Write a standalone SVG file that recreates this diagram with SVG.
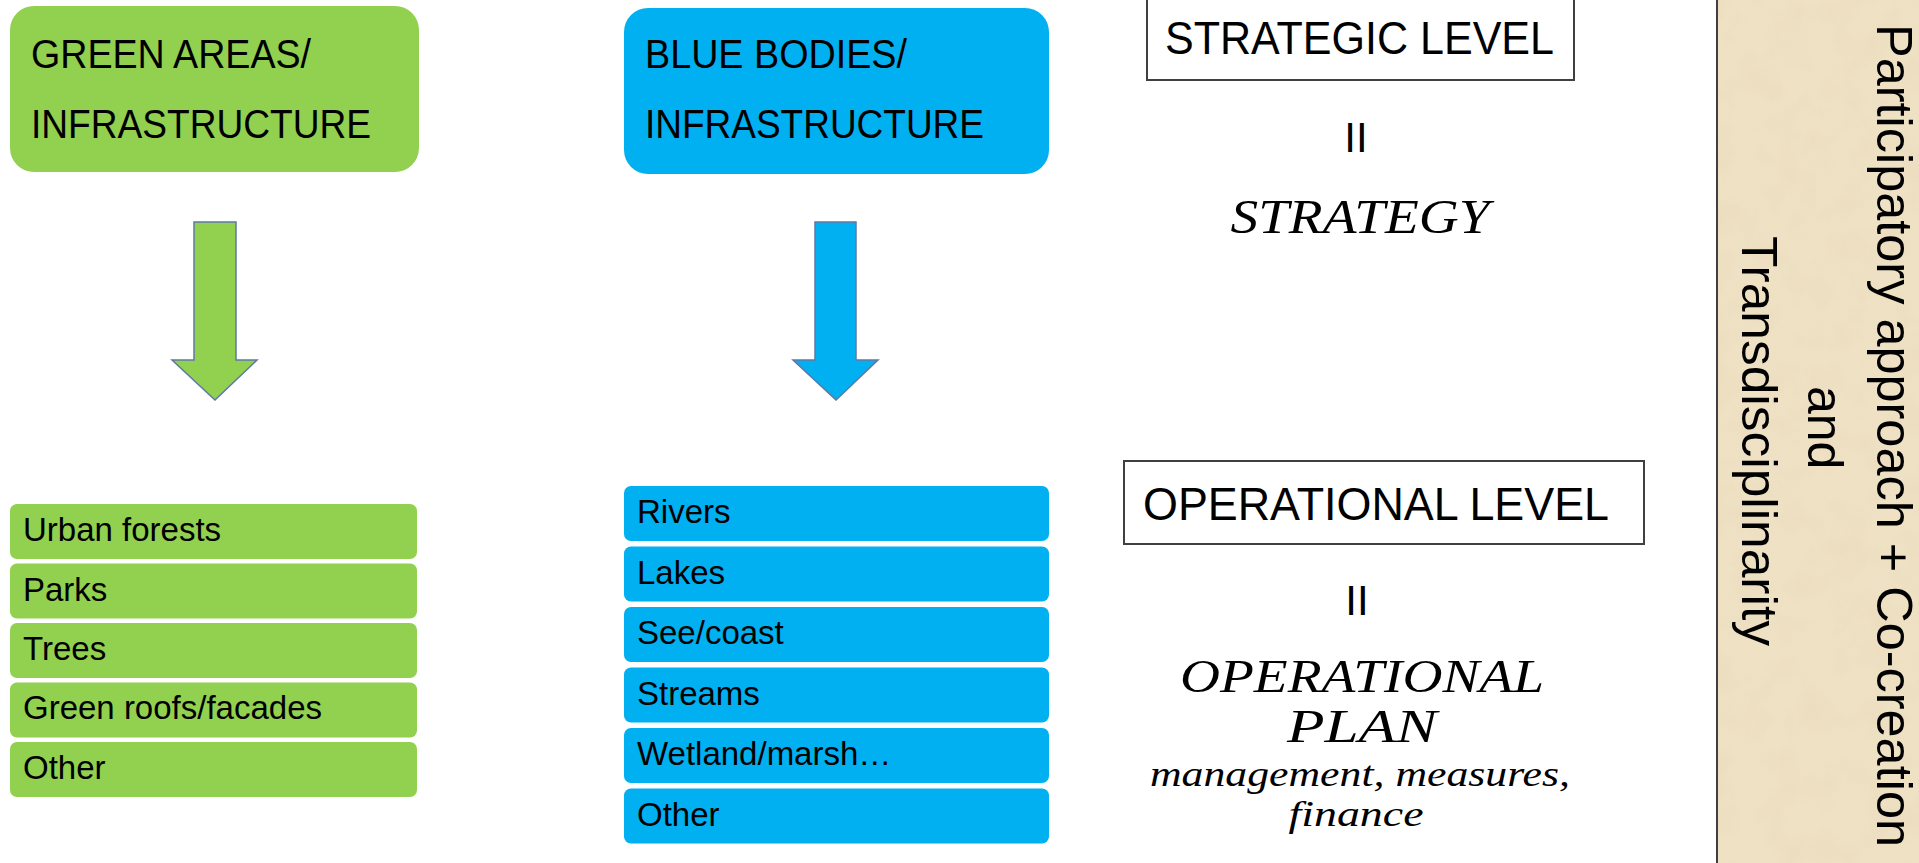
<svg xmlns="http://www.w3.org/2000/svg" width="1919" height="863" viewBox="0 0 1919 863">
<defs>
<style>
.hdr{font-family:"Liberation Sans",Arial,sans-serif;font-size:40px;fill:#000}
.item{font-family:"Liberation Sans",Arial,sans-serif;font-size:33px;fill:#000}
.lvl{font-family:"Liberation Sans",Arial,sans-serif;font-size:47px;fill:#000}
.eq{font-family:"Liberation Sans",Arial,sans-serif;font-size:42px;fill:#000;text-anchor:middle}
.scr{font-family:"Liberation Serif","Times New Roman",serif;font-style:italic;fill:#000;text-anchor:middle}
.side{font-family:"Liberation Sans",Arial,sans-serif;font-size:50px;fill:#000}
.green{fill:#92D050}
.blue{fill:#00B0F0}
.box{fill:#fff;stroke:#404040;stroke-width:2}
.arrow{stroke:#5E78A6;stroke-width:1.5;stroke-linejoin:miter}
</style>
<filter id="grain" x="0" y="0" width="100%" height="100%">
<feTurbulence type="fractalNoise" baseFrequency="0.03" numOctaves="4" seed="7" result="n"/>
<feColorMatrix in="n" type="matrix" values="0 0 0 0 0.80  0 0 0 0 0.68  0 0 0 0 0.48  0 0 0 1.2 -0.45"/>
<feComposite in2="SourceGraphic" operator="in"/>
</filter>
</defs>
<rect x="0" y="0" width="1919" height="863" fill="#fff"/>

<g id="green-header">
<rect class="green" x="10" y="6" width="409" height="166" rx="24"/>
<text class="hdr" x="31" y="68" textLength="280" lengthAdjust="spacingAndGlyphs">GREEN AREAS/</text>
<text class="hdr" x="31" y="138" textLength="340" lengthAdjust="spacingAndGlyphs">INFRASTRUCTURE</text>
</g>

<g id="blue-header">
<rect class="blue" x="624" y="8" width="425" height="166" rx="24"/>
<text class="hdr" x="645" y="68" textLength="262" lengthAdjust="spacingAndGlyphs">BLUE BODIES/</text>
<text class="hdr" x="645" y="138" textLength="339" lengthAdjust="spacingAndGlyphs">INFRASTRUCTURE</text>
</g>

<g id="connectors">
<path class="arrow green" d="M194,222 H236 V360 H257 L215,400 L172,360 H194 Z"/>
<path class="arrow blue" d="M815,222 H856 V360 H878 L836,400 L793,360 H815 Z"/>
</g>

<g id="green-items">
<g id="g-urban-forests"><rect class="green" x="10" y="504" width="407" height="55" rx="7"/><text class="item" x="23" y="541">Urban forests</text></g>
<g id="g-parks"><rect class="green" x="10" y="563.5" width="407" height="55" rx="7"/><text class="item" x="23" y="601">Parks</text></g>
<g id="g-trees"><rect class="green" x="10" y="623" width="407" height="55" rx="7"/><text class="item" x="23" y="660">Trees</text></g>
<g id="g-green-roofs"><rect class="green" x="10" y="682.5" width="407" height="55" rx="7"/><text class="item" x="23" y="719">Green roofs/facades</text></g>
<g id="g-other"><rect class="green" x="10" y="742" width="407" height="55" rx="7"/><text class="item" x="23" y="779">Other</text></g>
</g>

<g id="blue-items">
<g id="b-rivers"><rect class="blue" x="624" y="486" width="425" height="55" rx="7"/><text class="item" x="637" y="523">Rivers</text></g>
<g id="b-lakes"><rect class="blue" x="624" y="546.5" width="425" height="55" rx="7"/><text class="item" x="637" y="584">Lakes</text></g>
<g id="b-see-coast"><rect class="blue" x="624" y="607" width="425" height="55" rx="7"/><text class="item" x="637" y="644">See/coast</text></g>
<g id="b-streams"><rect class="blue" x="624" y="667.5" width="425" height="55" rx="7"/><text class="item" x="637" y="705">Streams</text></g>
<g id="b-wetland"><rect class="blue" x="624" y="728" width="425" height="55" rx="7"/><text class="item" x="637" y="765">Wetland/marsh…</text></g>
<g id="b-other"><rect class="blue" x="624" y="788.5" width="425" height="55" rx="7"/><text class="item" x="637" y="826">Other</text></g>
</g>

<g id="strategic-level">
<rect class="box" x="1147" y="-4" width="427" height="84"/>
<text class="lvl" x="1165" y="54" textLength="389" lengthAdjust="spacingAndGlyphs">STRATEGIC LEVEL</text>
<text class="eq" x="1356" y="152">II</text>
<text class="scr" x="1360" y="233" font-size="48" textLength="259" lengthAdjust="spacingAndGlyphs">STRATEGY</text>
</g>

<g id="operational-level">
<rect class="box" x="1124" y="461" width="520" height="83"/>
<text class="lvl" x="1143" y="520" textLength="466" lengthAdjust="spacingAndGlyphs">OPERATIONAL LEVEL</text>
<text class="eq" x="1357" y="615">II</text>
<text class="scr" x="1362" y="692" font-size="46" textLength="364" lengthAdjust="spacingAndGlyphs">OPERATIONAL</text>
<text class="scr" x="1362" y="742" font-size="46" textLength="150" lengthAdjust="spacingAndGlyphs">PLAN</text>
<text class="scr" x="1360" y="786" font-size="35" textLength="420" lengthAdjust="spacingAndGlyphs">management, measures,</text>
<text class="scr" x="1356" y="826" font-size="35" textLength="135" lengthAdjust="spacingAndGlyphs">finance</text>
</g>

<g id="side-panel">
<rect x="1717" y="0" width="202" height="863" fill="#EFE1C4"/>
<rect x="1717" y="0" width="202" height="863" fill="#EFE1C4" filter="url(#grain)" opacity="0.6"/>
<line x1="1717" y1="0" x2="1717" y2="863" stroke="#404040" stroke-width="2"/>
<text class="side" transform="translate(1877,24) rotate(90)" x="0" y="0" textLength="823" lengthAdjust="spacingAndGlyphs">Participatory approach + Co-creation</text>
<text class="side" transform="translate(1808,386) rotate(90)" x="0" y="0">and</text>
<text class="side" transform="translate(1742,236) rotate(90)" x="0" y="0" textLength="410" lengthAdjust="spacingAndGlyphs">Transdisciplinarity</text>
</g>
</svg>
